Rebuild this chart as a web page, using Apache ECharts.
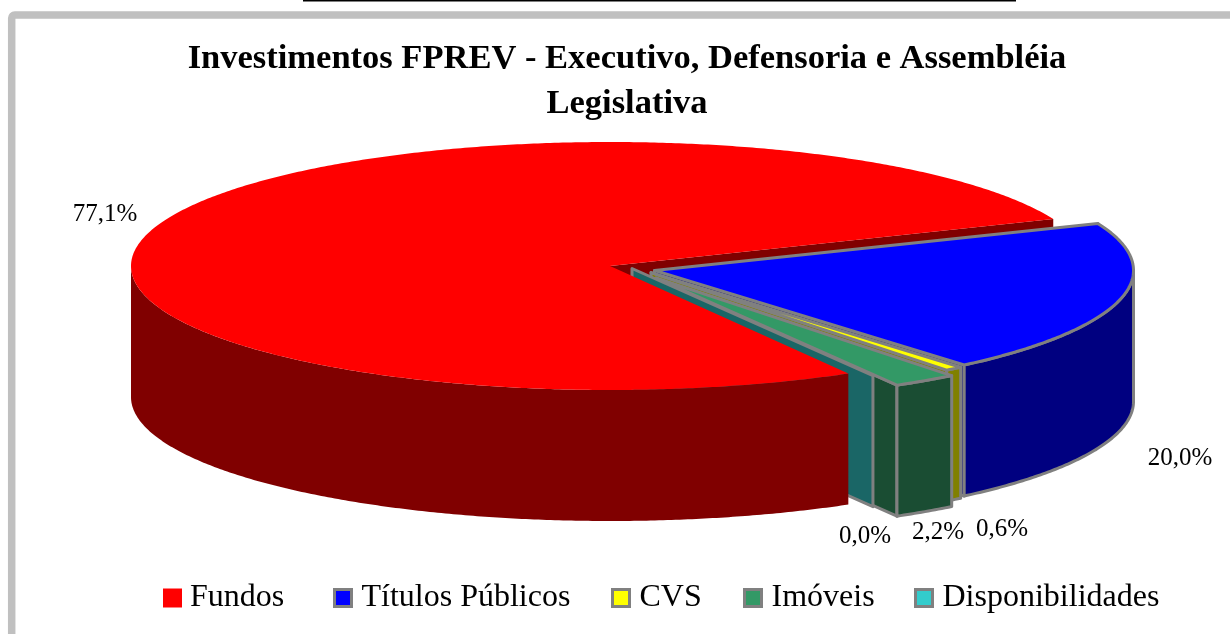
<!DOCTYPE html>
<html><head><meta charset="utf-8">
<style>html,body{margin:0;padding:0;background:#fff}#c{width:1230px;height:634px}</style>
<script src="https://cdn.jsdelivr.net/npm/echarts@6/dist/echarts.min.js"></script>
</head><body><div id="c"></div>
<script>
const categories = ['Fundos','Títulos Públicos','CVS','Imóveis','Disponibilidades'];
const values = [77.1,20.0,0.6,2.2,0.0];
const topColors = ['#FF0000','#0000FF','#FFFF00','#339966','#33CCCC'];
const wallColors = ['#800000','#000080','#808000','#1A4D33','#1A6666'];
const titleText = 'Investimentos FPREV - Executivo, Defensoria e Assembléia\nLegislativa';

// pie projection
const PIE = {cx:610, cy:266, rx:479, ry:124, depth:131, startDeg:60.16};
const explode = [[0,0],[44.5,4.4],[41,6.6],[46,12],[22,2.5]];
const labelAnchors = [[105,214],[1180,458],[1002,529],[938,532],[865,536]];
const legendLeft = [158,328,606,738,909];
const EDGE = '#808080';

const spans = [];
(function(){let a=PIE.startDeg;values.forEach((v,i)=>{const s=v/100*360;spans[i]=[a,a+s];a+=s;});})();
const rad = d=>d*Math.PI/180;
function pt(i,deg,drop){const o=explode[i];return [PIE.cx+o[0]+PIE.rx*Math.cos(rad(deg)),PIE.cy+o[1]+PIE.ry*Math.sin(rad(deg))+(drop||0)];}
function ctr(i,drop){const o=explode[i];return [PIE.cx+o[0],PIE.cy+o[1]+(drop||0)];}
function arc(i,a,b,drop){const n=Math.max(1,Math.ceil(Math.abs(b-a)/0.5)),p=[];for(let k=0;k<=n;k++)p.push(pt(i,a+(b-a)*k/n,drop));return p;}
function poly(points,fill,stroke){return {type:'polygon',shape:{points},style:{fill,stroke:stroke?EDGE:null,lineWidth:stroke?3:0,lineJoin:'round'}};}
function renderSlice(i){
  return function(params,api){
    const children=[],stroke=i!==0;
    const [a,b]=spans[i],D=PIE.depth,wall=wallColors[i],top=topColors[i];
    if(i===0){
      children.push(poly(arc(i,a,180).concat(arc(i,180,a,D)),wall,false));
      children.push(poly([ctr(i)].concat(arc(i,a,b)),top,false));
    } else {
      children.push(poly([ctr(i),pt(i,b),pt(i,b,D),ctr(i,D)],wall,stroke));
      const wa=a>=360?a-360:(a>180?0:a), wb=b>=360?b-360:b;
      if(wb>wa) children.push(poly(arc(i,wa,wb).concat(arc(i,wb,wa,D)),wall,stroke));
      if(b>a) children.push(poly([ctr(i)].concat(arc(i,a,b)),top,stroke));
    }
    return {type:'group',children};
  };
}
function renderBackCut(){
  const b=spans[0][1],D=PIE.depth;
  return {type:'group',children:[poly([ctr(0),pt(0,b),pt(0,b,D),ctr(0,D)],wallColors[0],false)]};
}
function renderLabels(params,api){
  const p=labelAnchors[params.dataIndex];
  return {type:'text',style:{text:api.value(0).toFixed(1).replace('.',',')+'%',x:p[0],y:p[1],align:'center',verticalAlign:'middle',font:'25px "Liberation Serif"',fill:'#000'}};
}
const order=[1,2,3,4,0];
const series=[{type:'custom',silent:true,z:1,renderItem:renderBackCut,data:[[values[0]]],coordinateSystem:'none'}];
order.forEach((i,k)=>series.push({type:'custom',name:categories[i],coordinateSystem:'none',silent:true,z:2+k,
  itemStyle:{color:topColors[i]},renderItem:renderSlice(i),data:[[values[i]]]}));
series.push({type:'custom',coordinateSystem:'none',silent:true,z:10,renderItem:renderLabels,data:values.map(v=>[v])});

const legends=categories.map((c,i)=>({data:[c],left:legendLeft[i],top:577,icon:'rect',itemWidth:i===0?19:17,itemHeight:i===0?19:17,itemGap:0,
  formatter:n=>n,textStyle:{fontFamily:'Liberation Serif',fontSize:32,color:'#000',padding:[0,0,0,i===0?3:5]},
  itemStyle:i===0?{borderWidth:0}:{borderColor:EDGE,borderWidth:3}}));

const chart=echarts.init(document.getElementById('c'),null,{renderer:'canvas'});
chart.setOption({
  animation:false,backgroundColor:'#fff',
  title:{text:titleText,left:622,top:32,textAlign:'center',textStyle:{fontFamily:'Liberation Serif',fontWeight:'bold',fontSize:34.5,lineHeight:45,color:'#000'}},
  legend:legends,
  series,
  graphic:[
    {type:'rect',z:-1,shape:{x:11.7,y:15,width:1300,height:800,r:3},style:{fill:'#fff',stroke:'#C0C0C0',lineWidth:7.5}},
    {type:'line',z:-1,shape:{x1:303,y1:0.5,x2:1016,y2:0.5},style:{stroke:'#000',lineWidth:2}}
  ]
});
</script></body></html>
